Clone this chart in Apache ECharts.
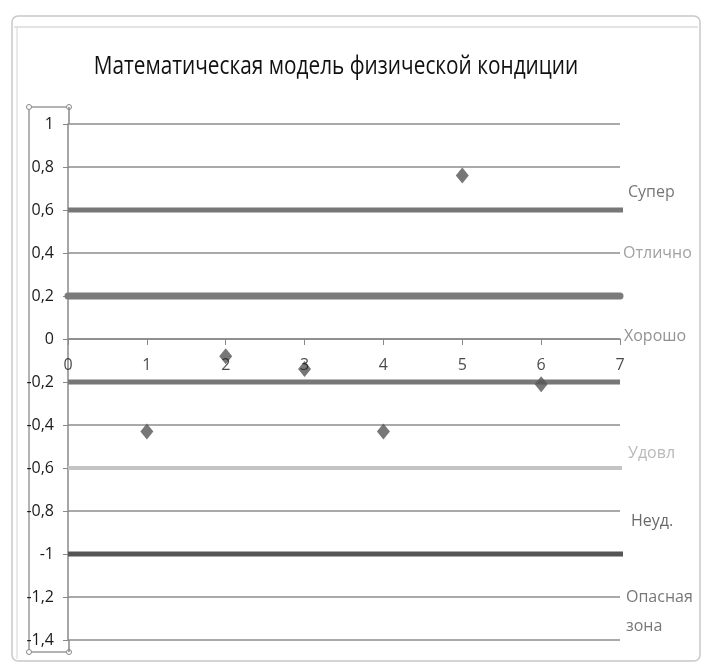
<!DOCTYPE html>
<html><head><meta charset="utf-8">
<script src="https://cdn.jsdelivr.net/npm/echarts@6/dist/echarts.min.js"></script>
<style>html,body{margin:0;padding:0;background:#fff}#c{width:710px;height:669px}</style>
</head><body><div id="c"></div>
<script>
// ---- data ----
const xMin = 0, xMax = 7;
const yMin = -1.4, yMax = 1;
const xTickValues = [0, 1, 2, 3, 4, 5, 6, 7];
const pointX = [1, 2, 3, 4, 5, 6];
const pointY = [-0.43, -0.08, -0.14, -0.43, 0.76, -0.21];
const zoneLevels = [0.6, 0.2, -0.2, -0.6, -1];
const zoneLineEnd = [7.09, 7, 7, 7.04, 7.09];
const zoneNames = ['Супер', 'Отлично', 'Хорошо', 'Удовл', 'Неуд.', 'Опасная\nзона'];
const zoneLabelY = [0.68, 0.4, 0.01, -0.53, -0.85, -1.27];
const titleText = 'Математическая модель физической кондиции';

// ---- styles ----
const FONT = '"Open Sans", sans-serif';
const zoneStyles = [
  {color: '#777', width: 5, cap: 'butt'},
  {color: '#7b7b7b', width: 7, cap: 'round'},
  {color: '#777', width: 5, cap: 'butt'},
  {color: '#c4c4c4', width: 4, cap: 'butt'},
  {color: '#555', width: 5, cap: 'butt'}
];
const labelStyles = [
  {color: '#555', dx: 8},
  {color: '#8a8a8a', dx: 3},
  {color: '#777', dx: 4},
  {color: '#a8a8a8', dx: 8},
  {color: '#444', dx: 11},
  {color: '#555', dx: 6}
];

const chart = echarts.init(document.getElementById('c'), null, {renderer: 'canvas'});

const series = [];
zoneLevels.forEach((v, i) => {
  const s = zoneStyles[i];
  series.push({
    type: 'line', silent: true, clip: false, symbol: 'none', z: 3,
    data: [[xMin, v], [zoneLineEnd[i], v]],
    lineStyle: {color: s.color, width: s.width, cap: s.cap}
  });
});
series.push({
  type: 'scatter', z: 5,
  symbol: 'diamond', symbolSize: [13, 16],
  itemStyle: {color: '#555'},
  data: pointX.map((x, i) => [x, pointY[i]])
});
// x tick labels placed just under the zero axis line
series.push({
  type: 'scatter', z: 6, clip: false, silent: true, symbolSize: 0,
  data: xTickValues.map(x => ({
    value: [x, 0],
    label: {
      show: true, position: 'bottom', distance: 18, formatter: String(x),
      color: '#1a1a1a', fontFamily: FONT, fontSize: 16
    }
  }))
});
series.push({
  type: 'scatter', z: 6, clip: false, silent: true,
  symbolSize: 0,
  data: zoneNames.map((n, i) => ({
    value: [xMax, zoneLabelY[i]], name: n,
    label: {
      show: true, position: 'right', distance: labelStyles[i].dx,
      formatter: n, color: labelStyles[i].color,
      fontFamily: FONT, fontSize: 16, lineHeight: 29
    }
  }))
});

const fmt = v => {
  const r = Math.round(v * 10) / 10;
  return String(r).replace('.', ',');
};

chart.setOption({
  animation: false,
  backgroundColor: '#fff',
  grid: {left: 68, right: 90, top: 124, bottom: 29, containLabel: false},
  xAxis: {
    type: 'value', min: xMin, max: xMax, interval: 1,
    axisLine: {onZero: true, lineStyle: {color: '#888', width: 1.5}},
    axisTick: {show: true, inside: false, length: 6, lineStyle: {color: '#888'}},
    axisLabel: {show: false},
    splitLine: {show: false}
  },
  yAxis: {
    type: 'value', min: yMin, max: yMax, interval: 0.2,
    axisLine: {show: true, lineStyle: {color: '#888', width: 1.5}},
    axisTick: {show: true, length: 5, lineStyle: {color: '#888'}},
    axisLabel: {margin: 14, color: '#1a1a1a', fontFamily: FONT, fontSize: 16, formatter: fmt},
    splitLine: {show: true, lineStyle: {color: '#8c8c8c', width: 1.5}}
  },
  graphic: [
    {type: 'text', x: 336, y: 67, scaleX: 0.8, z: 10,
     style: {text: titleText, fontFamily: FONT, fontSize: 26, fill: '#111', align: 'center', verticalAlign: 'middle'}},
    {type: 'rect', shape: {x: 12, y: 16, width: 688, height: 645, r: 6}, style: {fill: 'none', stroke: '#c8c8c8', lineWidth: 1.5}, z: -1},
    {type: 'line', shape: {x1: 14, y1: 27, x2: 698, y2: 27}, style: {stroke: '#c8c8c8', lineWidth: 1}},
    {type: 'line', shape: {x1: 17, y1: 27, x2: 17, y2: 659}, style: {stroke: '#d4d4d4', lineWidth: 1}},
    {type: 'polyline', shape: {points: [[69, 107], [29, 107], [29, 652], [69, 652]]}, style: {fill: 'none', stroke: '#999', lineWidth: 1.5}},
    {type: 'circle', shape: {cx: 29, cy: 107, r: 2.5}, style: {fill: '#fff', stroke: '#888'}},
    {type: 'circle', shape: {cx: 69, cy: 107, r: 2.5}, style: {fill: '#fff', stroke: '#888'}},
    {type: 'circle', shape: {cx: 29, cy: 652, r: 2.5}, style: {fill: '#fff', stroke: '#888'}},
    {type: 'circle', shape: {cx: 69, cy: 652, r: 2.5}, style: {fill: '#fff', stroke: '#888'}},
    {type: 'line', shape: {x1: 69, y1: 107, x2: 69, y2: 124}, style: {stroke: '#888', lineWidth: 1.5}},
    {type: 'line', shape: {x1: 69, y1: 640, x2: 69, y2: 652}, style: {stroke: '#888', lineWidth: 1.5}}
  ],
  series: series
});
</script>
</body></html>
